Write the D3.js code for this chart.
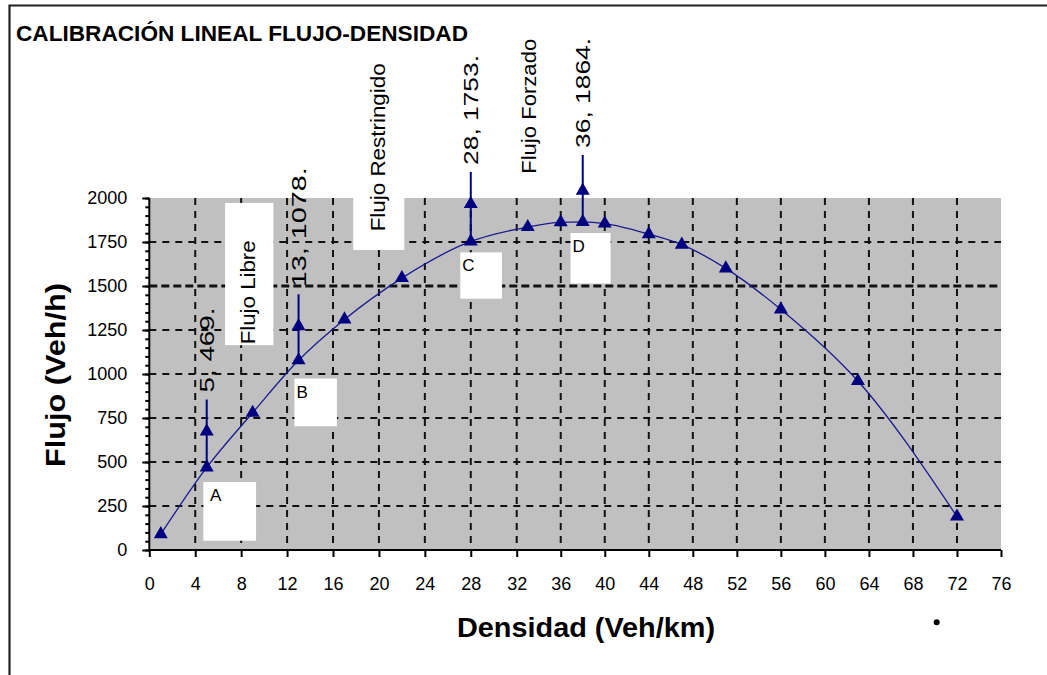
<!DOCTYPE html>
<html>
<head>
<meta charset="utf-8">
<script src="https://cdn.jsdelivr.net/npm/d3@7"></script>
<style>
  html, body { margin: 0; padding: 0; background: #fff; }
  svg { display: block; }
  text { font-family: Arial, "Liberation Sans", sans-serif; }
</style>
</head>
<body>
<svg id="chart" width="1047" height="675"></svg>
<script>
// ---------------- DATA ----------------
const titulo = "CALIBRACIÓN LINEAL FLUJO-DENSIDAD";
const tituloX = "Densidad (Veh/km)";
const tituloY = "Flujo (Veh/h)";

const xTicks = [0, 4, 8, 12, 16, 20, 24, 28, 32, 36, 40, 44, 48, 52, 56, 60, 64, 68, 72, 76];
const yTicks = [0, 250, 500, 750, 1000, 1250, 1500, 1750, 2000];

// curve points (density, flow)
const densidad = [1, 5, 9, 13, 17, 22, 28, 33, 36, 38, 40, 44, 47, 51, 56, 63, 72];
const flujo    = [90, 469, 780, 1078, 1310, 1545, 1753, 1835, 1862, 1864, 1855, 1795, 1735, 1600, 1367, 960, 190];

// labelled points with vertical leader lines
const etiquetaX     = [5, 13, 28, 38];
const etiquetaY     = [469, 1078, 1753, 1864];
const etiquetaMedio = [674, 1272, 1966, 2042];
const etiquetaTope  = [855, 1453, 2148, 2245];
const etiquetaTexto = ["5, 469.", "13, 1078.", "28,  1753.", "36,  1864."];

// zone letters
const zonas = ["A", "B", "C", "D"];
const regimenes = ["Flujo Libre", "Flujo Restringido", "Flujo Forzado"];

// ---------------- LAYOUT ----------------
const svg = d3.select("#chart");
const plot = { left: 149.3, right: 1001, top: 198, bottom: 550 };

const x = d3.scaleLinear().domain([0, 32, 76]).range([plot.left, 516.7, plot.right]);
const y = d3.scaleLinear().domain([0, 2000]).range([plot.bottom, plot.top]);

const navy = "#000080";

// outer frame
svg.append("rect").attr("x", 0).attr("y", 0).attr("width", 1047).attr("height", 675).attr("fill", "#fff");
svg.append("path").attr("d", "M9.5,676 L9.5,5.5 L1048,5.5")
  .attr("fill", "none").attr("stroke", "#222").attr("stroke-width", 2.2);

// title
svg.append("text").attr("x", 16).attr("y", 40.5)
  .attr("font-size", 22).attr("font-weight", "bold")
  .attr("textLength", 452).attr("lengthAdjust", "spacingAndGlyphs")
  .text(titulo);

// plot background
svg.append("rect").attr("x", plot.left).attr("y", plot.top)
  .attr("width", plot.right - plot.left).attr("height", plot.bottom - plot.top)
  .attr("fill", "#c0c0c0");

// grid
const g = svg.append("g");
g.selectAll("line.vg").data(xTicks.filter(d => d > 0 && d < 76)).join("line")
  .attr("x1", d => x(d)).attr("x2", d => x(d))
  .attr("y1", plot.top).attr("y2", plot.bottom)
  .attr("stroke", "#111").attr("stroke-width", 2).attr("stroke-dasharray", "7,6");
g.selectAll("line.hg").data(yTicks.filter(d => d > 0 && d < 2000)).join("line")
  .attr("x1", plot.left).attr("x2", plot.right)
  .attr("y1", d => y(d)).attr("y2", d => y(d))
  .attr("stroke", "#111")
  .attr("stroke-width", d => d === 1500 ? 3 : 2)
  .attr("stroke-dasharray", d => d === 1500 ? "8,4" : "7,6");

// white text boxes (annotation layout, in data units)
const cajas = [
  { x0: 4.71, x1: 9.30, y0: 386, y1: 53 },      // A
  { x0: 12.64, x1: 16.34, y0: 974, y1: 703 },   // B
  { x0: 27.09, x1: 30.72, y0: 1691, y1: 1428 }, // C
  { x0: 36.89, x1: 40.53, y0: 1801, y1: 1514 }, // D
  { x0: 6.60, x1: 10.81, y0: 1972, y1: 1164 },  // Flujo Libre
  { x0: 17.76, x1: 22.21, y0: 2000, y1: 1705 }  // Flujo Restringido
];
svg.append("g").selectAll("rect").data(cajas).join("rect")
  .attr("x", d => x(d.x0)).attr("y", d => y(d.y0))
  .attr("width", d => x(d.x1) - x(d.x0)).attr("height", d => y(d.y1) - y(d.y0))
  .attr("fill", "#fff");

// zone letters
const letraOff = [6.7, 2, 2, 2];
svg.append("g").selectAll("text").data(zonas).join("text")
  .attr("x", (d, i) => x(cajas[i].x0) + letraOff[i])
  .attr("y", (d, i) => y(cajas[i].y0) + 19)
  .attr("font-size", 17)
  .text(d => d);

// regime labels (rotated)
const regPos = [
  { cx: 8.7, cy: 1464, len: 104 },
  { cx: 20.0, cy: 2288, len: 168 },
  { cx: 33.2, cy: 2521, len: 135 }
];
svg.append("g").selectAll("text").data(regimenes).join("text")
  .attr("transform", (d, i) => `translate(${x(regPos[i].cx)},${y(regPos[i].cy)}) rotate(-90)`)
  .attr("text-anchor", "middle").attr("dy", "0.3em")
  .attr("font-size", 21)
  .attr("textLength", (d, i) => regPos[i].len).attr("lengthAdjust", "spacingAndGlyphs")
  .text(d => d);

// axes
const yAxis = d3.axisLeft(y).tickValues(yTicks).tickSize(7).tickPadding(15).tickFormat(d3.format("d"));
const yMinor = d3.axisLeft(y).tickValues(d3.range(0, 2001, 50)).tickSize(4).tickFormat("");
const xAxis = d3.axisBottom(x).tickValues(xTicks).tickSize(7).tickPadding(20).tickFormat(d3.format("d"));

const gyMinor = svg.append("g").attr("transform", `translate(${plot.left},0)`).call(yMinor);
gyMinor.select(".domain").remove();
gyMinor.selectAll("line").attr("stroke", "#000").attr("stroke-width", 2);

const gy = svg.append("g").attr("transform", `translate(${plot.left},0)`).call(yAxis);
gy.select(".domain").attr("stroke", "#000").attr("stroke-width", 2).attr("d", `M0,${plot.top}V${plot.bottom}`);
gy.selectAll("line").attr("stroke", "#000").attr("stroke-width", 2);
gy.selectAll("text").attr("font-size", 18).attr("fill", "#000")
  .attr("font-family", "Arial, 'Liberation Sans', sans-serif");

const gx = svg.append("g").attr("transform", `translate(0,${plot.bottom})`).call(xAxis);
gx.select(".domain").attr("stroke", "#000").attr("stroke-width", 2).attr("d", `M${plot.left},0H${plot.right}`);
gx.selectAll("line").attr("stroke", "#000").attr("stroke-width", 2);
gx.selectAll("text").attr("font-size", 18).attr("fill", "#000")
  .attr("font-family", "Arial, 'Liberation Sans', sans-serif");

// axis titles
svg.append("text").attr("x", 586).attr("y", 637)
  .attr("text-anchor", "middle").attr("font-size", 28).attr("font-weight", "bold")
  .attr("textLength", 258).attr("lengthAdjust", "spacingAndGlyphs")
  .text(tituloX);
svg.append("text").attr("transform", "translate(55,375) rotate(-90)")
  .attr("text-anchor", "middle").attr("dy", "0.35em")
  .attr("font-size", 28).attr("font-weight", "bold")
  .attr("textLength", 184).attr("lengthAdjust", "spacingAndGlyphs")
  .text(tituloY);

// stray dot
svg.append("circle").attr("cx", 936.7).attr("cy", 622.3).attr("r", 3).attr("fill", "#000");

// curve
const pts = densidad.map((d, i) => [d, flujo[i]]);
svg.append("path").datum(pts)
  .attr("d", d3.line().x(d => x(d[0])).y(d => y(d[1])).curve(d3.curveMonotoneX))
  .attr("fill", "none").attr("stroke", "#1a1a8f").attr("stroke-width", 1.3);

// leader lines
const lead = svg.append("g");
etiquetaX.forEach((ex, i) => {
  lead.append("line")
    .attr("x1", x(ex)).attr("x2", x(ex))
    .attr("y1", y(etiquetaY[i])).attr("y2", y(etiquetaTope[i]))
    .attr("stroke", navy).attr("stroke-width", 2);
});

// markers
const tri = d3.symbol().type(d3.symbolTriangle).size(85);
svg.append("g").selectAll("path").data(pts).join("path")
  .attr("d", tri).attr("transform", d => `translate(${x(d[0])},${y(d[1])})`)
  .attr("fill", navy);
svg.append("g").selectAll("path").data(etiquetaX).join("path")
  .attr("d", tri).attr("transform", (d, i) => `translate(${x(d)},${y(etiquetaMedio[i])})`)
  .attr("fill", navy);

// point labels (rotated)
const etiquetaLen = [85, 120, 110, 110];
svg.append("g").selectAll("text").data(etiquetaTexto).join("text")
  .attr("transform", (d, i) => `translate(${x(etiquetaX[i])},${y(etiquetaTope[i]) - 7}) rotate(-90)`)
  .attr("dy", "0.35em").attr("font-size", 21)
  .attr("textLength", (d, i) => etiquetaLen[i]).attr("lengthAdjust", "spacingAndGlyphs")
  .text(d => d);
</script>
</body>
</html>
